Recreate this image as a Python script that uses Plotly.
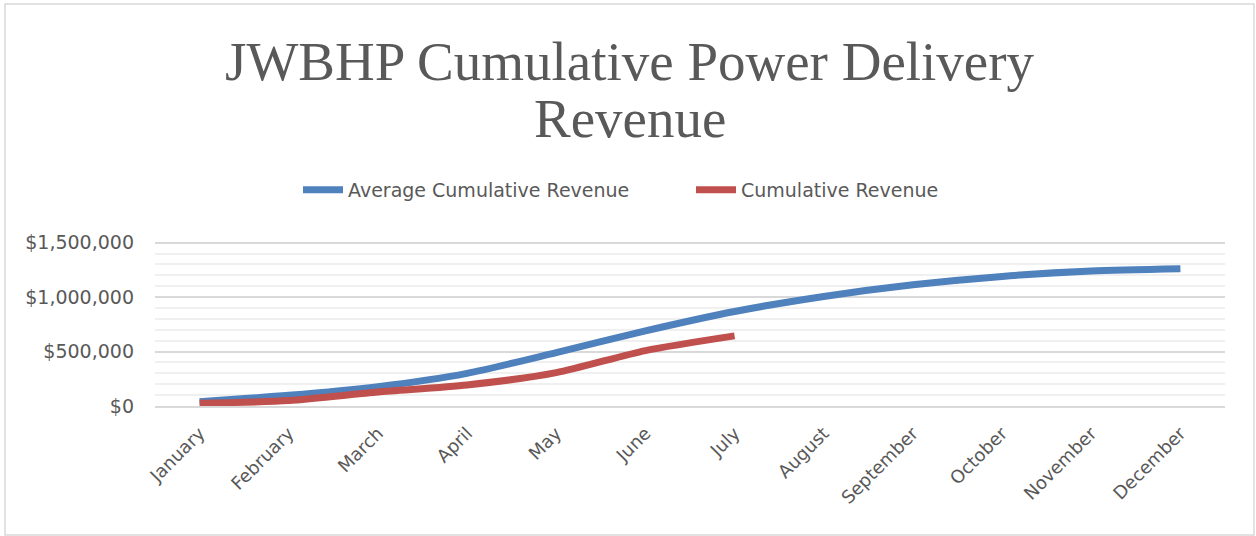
import plotly.graph_objects as go

months = ["January", "February", "March", "April", "May", "June", "July",
          "August", "September", "October", "November", "December"]
avg_cum_revenue = [40000, 98000, 178000, 300000, 490000, 690000, 868000,
                   1006000, 1113000, 1190000, 1239000, 1260000]
cum_revenue = [25000, 50000, 128000, 193000, 306000, 509000, 644000]

W, H = 1256, 536
L, R, T, B = 155, 31, 241, 130
pw, ph = W - L - R, H - T - B

def px_x(x):
    return (x - L) / pw

def px_y(y):
    return (H - B - y) / ph

SANS = "DejaVu Sans, Open Sans, sans-serif"

fig = go.Figure()
fig.add_trace(go.Scatter(
    x=months, y=avg_cum_revenue, name="Average Cumulative Revenue",
    mode="lines", line=dict(color="#4f81bd", width=7, shape="spline", smoothing=0.7),
))
fig.add_trace(go.Scatter(
    x=months[:len(cum_revenue)], y=cum_revenue, name="Cumulative Revenue",
    mode="lines", line=dict(color="#c0504d", width=7, shape="spline", smoothing=0.7),
))

title_font = dict(family="Liberation Serif, DejaVu Serif, serif", size=55, color="#595959")
fig.add_annotation(text="JWBHP Cumulative Power Delivery", xref="paper", yref="paper",
                   x=px_x(630), y=px_y(61), xanchor="center", yanchor="middle",
                   showarrow=False, font=title_font)
fig.add_annotation(text="Revenue", xref="paper", yref="paper",
                   x=px_x(630), y=px_y(119), xanchor="center", yanchor="middle",
                   showarrow=False, font=title_font)

fig.add_shape(type="rect", xref="paper", yref="paper",
              x0=px_x(5), x1=px_x(1254), y0=px_y(535), y1=px_y(4),
              line=dict(color="#d9d9d9", width=1.5), fillcolor="rgba(0,0,0,0)", layer="below")

fig.update_layout(
    width=W, height=H,
    margin=dict(l=L, r=R, t=T, b=B),
    paper_bgcolor="white", plot_bgcolor="white",
    font=dict(family=SANS, color="#595959"),
    showlegend=True,
    legend=dict(orientation="h", x=px_x(298), xanchor="left", y=px_y(190), yanchor="middle",
                font=dict(size=19, color="#595959", family=SANS), itemwidth=40,
                entrywidth=338, entrywidthmode="pixels",
                bgcolor="rgba(0,0,0,0)"),
    xaxis=dict(
        type="category", range=[-0.5, 11.5], showgrid=False, zeroline=False,
        showline=True, linecolor="#d9d9d9", linewidth=1.5,
        tickangle=-45, tickfont=dict(size=18, color="#595959", family=SANS),
        ticks="", ticklabelstandoff=8,
    ),
    yaxis=dict(
        range=[0, 1515000], tickvals=[0, 500000, 1000000, 1500000],
        tickformat="$,.0f",
        showgrid=True, gridcolor="#d9d9d9", gridwidth=1.5, zeroline=False,
        minor=dict(dtick=100000, tick0=0, showgrid=True, gridcolor="#f0f0f0", gridwidth=1.5),
        tickfont=dict(size=19, color="#595959", family=SANS),
        ticks="", ticklabelstandoff=20,
    ),
)

fig.write_html("out.html", config={"displayModeBar": False},
               post_script="document.body.style.margin='0px';")
